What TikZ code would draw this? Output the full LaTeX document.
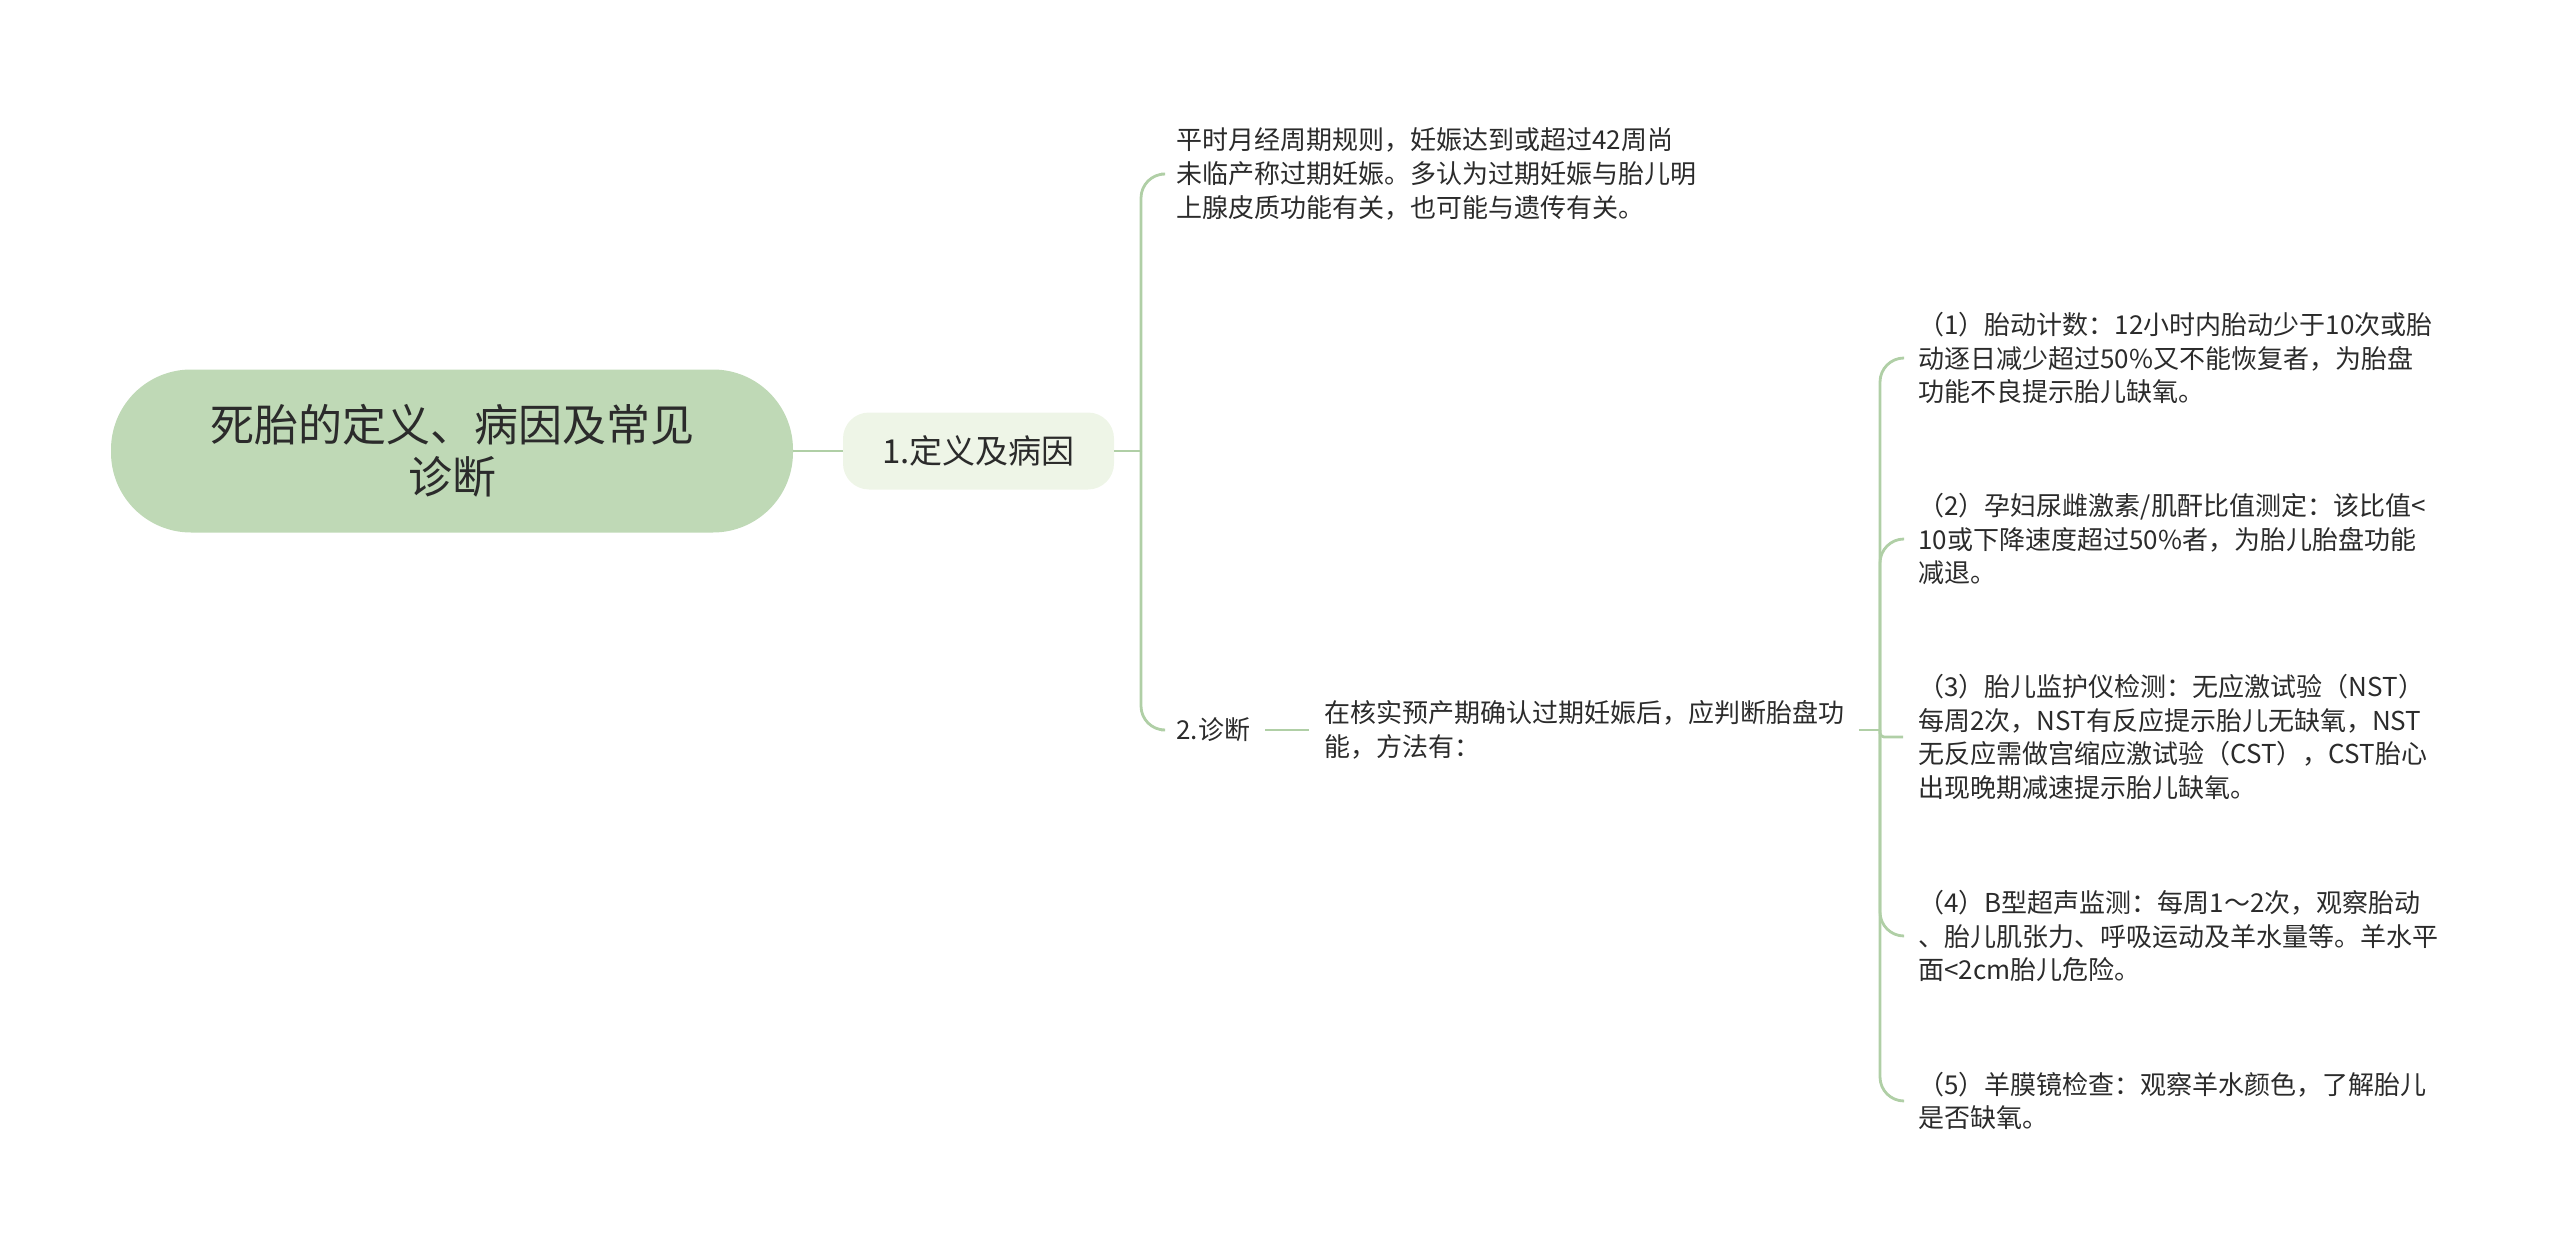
\documentclass[tikz,border=0pt]{standalone}
\usepackage{fontspec}
\newfontfamily\cjk{Noto Sans CJK SC}
\definecolor{rootfill}{HTML}{BFD9B6}
\definecolor{subfill}{HTML}{EEF5E7}
\definecolor{linkgreen}{HTML}{B0CFA6}
\definecolor{inkgray}{HTML}{2B2B2B}
\tikzset{
	rootbox/.style={fill=rootfill, rounded corners=40pt, minimum width=341pt, minimum height=81.5pt, align=center, text=inkgray, font=\cjk\fontsize{22pt}{26pt}\selectfont},
	subbox/.style={fill=subfill, rounded corners=13pt, minimum width=135.5pt, minimum height=38.5pt, text=inkgray, font=\cjk\fontsize{16.5pt}{20pt}\selectfont},
	leaf/.style={anchor=west, inner xsep=4pt, inner ysep=2pt, align=left, text=inkgray, font=\cjk\fontsize{13pt}{16.8pt}\selectfont},
	link/.style={draw=linkgreen, line width=1.4pt},
	branch/.style={link, rounded corners=12pt, shorten >=3.5pt}
}
\begin{document}
\begin{tikzpicture}[x=0.5pt,y=-0.5pt]

	\useasboundingbox (0,0) rectangle (2560,1257);

	\node[rootbox] (root) at (452,451) {死胎的定义、病因及常见\\诊断};
	\node[subbox] (def) at (978.5,451) {1.定义及病因};
	\node[leaf] (defText) at (1168,174) {平时月经周期规则，妊娠达到或超过42周尚\\未临产称过期妊娠。多认为过期妊娠与胎儿明\\上腺皮质功能有关，也可能与遗传有关。};
	\node[leaf] (diag) at (1168,730) {2.诊断};
	\node[leaf] (diagText) at (1316,730) {在核实预产期确认过期妊娠后，应判断胎盘功\\能，方法有：};

	\node[leaf] (m1) at (1910,358) {（1）胎动计数：12小时内胎动少于10次或胎\\动逐日减少超过50\%又不能恢复者，为胎盘\\功能不良提示胎儿缺氧。};
	\node[leaf] (m2) at (1910,539) {（2）孕妇尿雌激素/肌酐比值测定：该比值<\\10或下降速度超过50\%者，为胎儿胎盘功能\\减退。};
	\node[leaf] (m3) at (1910,737) {（3）胎儿监护仪检测：无应激试验（NST）\\每周2次，NST有反应提示胎儿无缺氧，NST\\无反应需做宫缩应激试验（CST），CST胎心\\出现晚期减速提示胎儿缺氧。};
	\node[leaf] (m4) at (1910,936) {（4）B型超声监测：每周1～2次，观察胎动\\、胎儿肌张力、呼吸运动及羊水量等。羊水平\\面<2cm胎儿危险。};
	\node[leaf] (m5) at (1910,1101) {（5）羊膜镜检查：观察羊水颜色，了解胎儿\\是否缺氧。};

	\coordinate (hub1) at (1141,451);
	\coordinate (hub2) at (1880,730);

	\draw[link] (root.east) -- (def.west);
	\draw[link] (def.east) -- (hub1);
	\draw[branch] (hub1) |- (defText.west);
	\draw[branch] (hub1) |- (diag.west);
	\draw[branch, shorten <=3.5pt] (diag.east) -- (diagText.west);

	\draw[link, shorten <=3pt] (diagText.east) -- (hub2);
	\draw[branch] (hub2) |- (m1.west);
	\draw[branch] (hub2) |- (m2.west);
	\draw[branch, rounded corners=2pt] (hub2) |- (m3.west);
	\draw[branch] (hub2) |- (m4.west);
	\draw[branch] (hub2) |- (m5.west);

\end{tikzpicture}
\end{document}
